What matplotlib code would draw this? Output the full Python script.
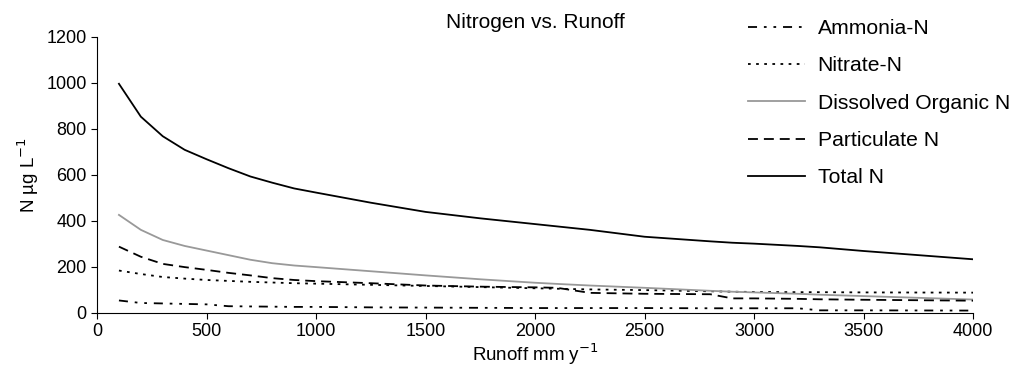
import matplotlib.pyplot as plt

plt.rcParams['font.family'] = ['Liberation Sans', 'DejaVu Sans']

runoff = [100, 200, 300, 400, 500, 600, 700, 800, 900, 1000, 1250, 1500, 1750,
          2000, 2100, 2250, 2500, 2800, 2900, 3000, 3200, 3300, 3500, 4000]

ammonia = [53, 42, 40, 38, 36, 28, 27, 26, 25, 25, 23, 22, 21,
           20, 20, 20, 20, 19, 19, 19, 19, 10, 10, 9]
nitrate = [183, 168, 155, 148, 142, 138, 134, 131, 128, 126, 121, 116, 111,
           106, 104, 101, 98, 93, 91, 90, 89, 89, 88, 87]
don = [425, 360, 316, 290, 270, 250, 230, 215, 205, 198, 180, 162, 145,
       130, 125, 118, 108, 95, 91, 88, 82, 78, 72, 57]
particulate = [287, 243, 212, 198, 186, 173, 162, 150, 142, 137, 128, 118, 113,
               110, 108, 86, 82, 80, 62, 62, 60, 58, 56, 52]
total = [995, 852, 767, 708, 667, 628, 592, 565, 540, 522, 478, 438, 410,
         385, 375, 360, 330, 310, 304, 300, 290, 284, 268, 232]

fig = plt.figure(figsize=(10.14, 3.70), dpi=100)
ax = fig.add_axes([0.0957, 0.155, 0.864, 0.746])

ax.plot(runoff, ammonia, color='black', lw=1.3, ls=(0, (5, 3.8, 1.5, 3.8, 1.5, 3.8)), label='Ammonia-N')
ax.plot(runoff, nitrate, color='black', lw=1.3, ls=(0, (1.5, 3)), label='Nitrate-N')
ax.plot(runoff, don, color='#999999', lw=1.3, ls='-', label='Dissolved Organic N')
ax.plot(runoff, particulate, color='black', lw=1.3, ls=(0, (5.5, 3.3)), label='Particulate N')
ax.plot(runoff, total, color='black', lw=1.3, ls='-', label='Total N')

ax.set_xlim(0, 4000)
ax.set_ylim(0, 1200)
ax.set_xticks(range(0, 4001, 500))
ax.set_yticks(range(0, 1201, 200))
ax.spines['top'].set_visible(False)
ax.spines['right'].set_visible(False)
ax.tick_params(direction='out', length=4, labelsize=13)
ax.set_xlabel('Runoff mm y$^{-1}$', fontsize=13.5, labelpad=1)
ax.set_ylabel('N µg L$^{-1}$', fontsize=13.5)

fig.text(0.528, 0.94, 'Nitrogen vs. Runoff', ha='center', va='center', fontsize=15)

ax.legend(loc='upper left', bbox_to_anchor=(0.719, 1.0), bbox_transform=fig.transFigure,
          frameon=False, fontsize=15.2, handlelength=2.7, handletextpad=0.6,
          labelspacing=0.87, borderaxespad=0.5)

fig.savefig('out.png', dpi=100)
